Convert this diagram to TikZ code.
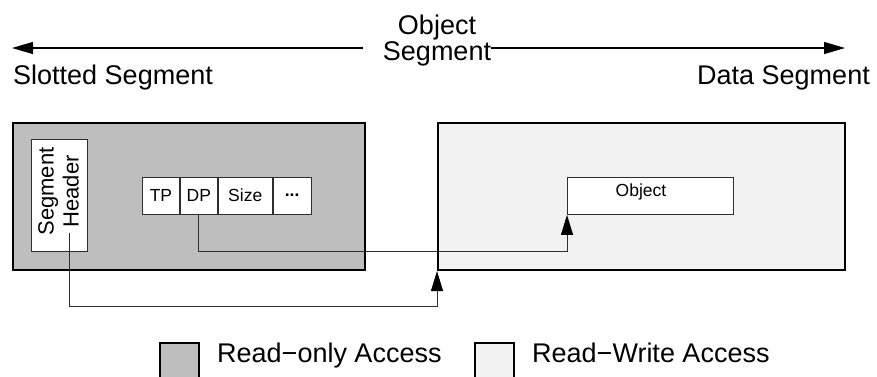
\documentclass[tikz,border=0pt]{standalone}
\usepackage{fontspec}
\setmainfont{Liberation Sans}
\usetikzlibrary{arrows.meta,calc}

\definecolor{rofill}{gray}{0.745}
\definecolor{rwfill}{gray}{0.95}
\definecolor{edge}{gray}{0.18}

\begin{document}
\begin{tikzpicture}[x=1pt,y=-1pt,
  segbox/.style={draw=black, line width=2pt, inner sep=0pt, anchor=north west},
  cell/.style={draw=edge, line width=0.9pt, fill=white, minimum height=37pt,
               inner sep=0pt, anchor=west, font=\fontsize{17.5}{20}\selectfont},
  plainbox/.style={draw=edge, line width=0.9pt, fill=white, inner sep=0pt, anchor=north west},
  txt/.style={inner sep=0pt},
  big/.style={font=\fontsize{27}{26}\selectfont},
  small/.style={font=\fontsize{17.5}{20}\selectfont},
  link/.style={draw=edge, line width=0.9pt,
               -{Triangle[length=20pt,width=12pt,color=black,fill=black]}},
  span/.style={draw=black, line width=1.1pt, -{Triangle[length=21pt,width=12pt]}},
]
\useasboundingbox (0,0) rectangle (877,376);

% extent arrows over both segments
\node[txt, big, align=center] (title) at (437,41) {Object\\Segment};
\coordinate (ltip) at (12,48);
\coordinate (rtip) at (845,48);
\draw[span] ($(title.west |- ltip)+(-20,0)$) -- (ltip);
\draw[span] (title.east |- rtip) -- (rtip);
\node[txt, big, anchor=base west] (slotlabel) at (13,84) {Slotted Segment};
\node[txt, big, anchor=base east] (datalabel) at (870,84) {Data Segment};

% the two segments
\node[segbox, fill=rofill, minimum width=352pt, minimum height=147pt] (slot) at (12,122) {};
\node[segbox, fill=rwfill, minimum width=407pt, minimum height=147pt] (data) at (437,122) {};

% segment header
\node[plainbox, minimum width=56pt, minimum height=112pt] (hdr) at (31,139) {};
\node[txt, rotate=90, align=center, font=\fontsize{22}{25}\selectfont]
  (hdrtext) at ($(hdr.center)+(-1,-4)$) {Segment\\Header};

% slot entry
\node[cell, minimum width=37pt] (tp) at (142,195.5) {TP};
\node[cell, minimum width=37pt] (dp) at (tp.east) {DP};
\node[cell, minimum width=54pt] (size) at (dp.east) {Size};
\node[cell, minimum width=38pt] (more) at (size.east) {\raisebox{0.5pt}{\textbf{...}}};

% object in the data segment
\node[plainbox, minimum width=166pt, minimum height=37pt] (obj) at (567,177) {};
\node[txt, small] (objtext) at (641,192) {Object};

% pointers
\coordinate (hdrtail) at (69,233);
\coordinate (lowrun) at (0,306);
\draw[link] (hdrtail) -- (hdrtail |- lowrun) -| (data.south west);
\draw[link] (dp.south) -- (dp.south |- hdr.south) -| (obj.south west);

% legend
\node[segbox, fill=rofill, minimum width=39pt, minimum height=42pt] (rokey) at (159,342) {};
\node[txt, big, anchor=base west] (rolabel) at (217,362) {Read−only Access};
\node[segbox, fill=rwfill, minimum width=39pt, minimum height=42pt] (rwkey) at (474,342) {};
\node[txt, big, anchor=base west] (rwlabel) at (532,362) {Read−Write Access};
\end{tikzpicture}
\end{document}
